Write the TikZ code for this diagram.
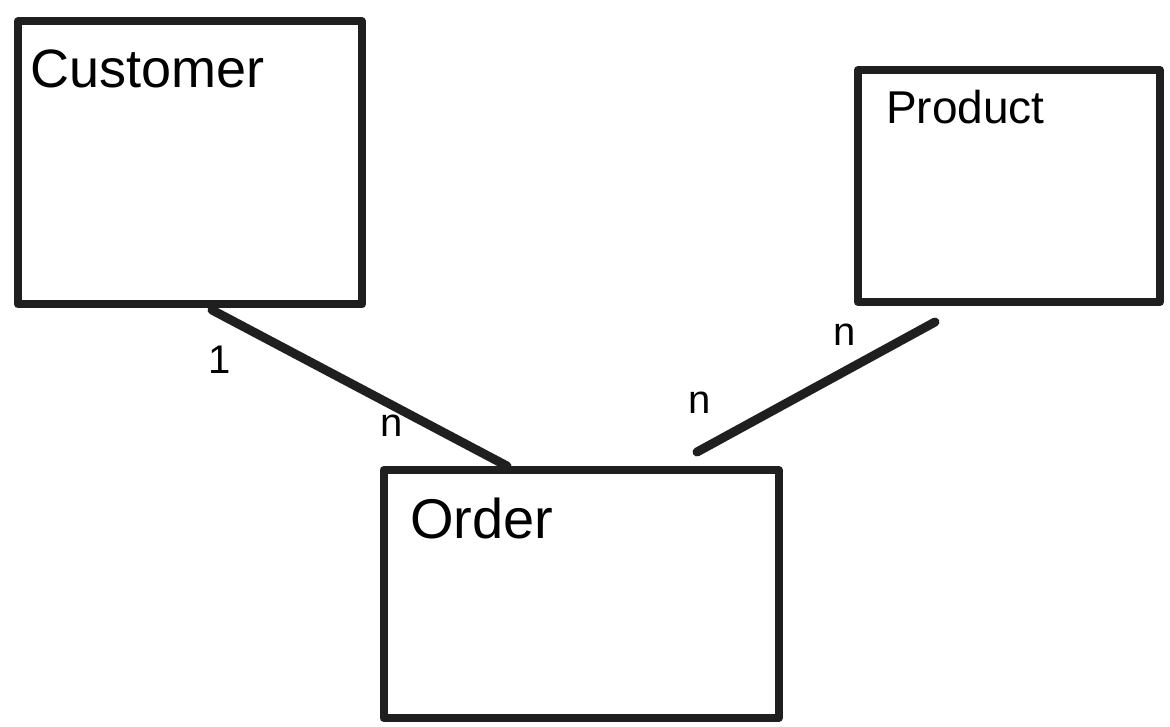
\documentclass[tikz,border=0pt]{standalone}
\usepackage{fontspec}
\setmainfont{Liberation Sans}
\begin{document}
\begin{tikzpicture}[x=1pt,y=-1pt,
  entity/.style={draw=black!88, line width=8pt, rectangle, line cap=round, line join=round, inner sep=0pt},
  title/.style={anchor=base west, inner sep=0pt},
  card/.style={font=\fontsize{40}{42}\selectfont, inner sep=0pt},
  rel/.style={draw=black!88, line width=9pt, line cap=round}]
\useasboundingbox[fill=white] (0,0) rectangle (1170,727);
\node[entity, minimum width=344pt, minimum height=283pt] (cust) at (190,163) {};
\node[entity, minimum width=302pt, minimum height=232pt] (prod) at (1009,186) {};
\node[entity, minimum width=395pt, minimum height=248pt] (ord) at (581,594) {};
\node[title, font=\fontsize{54}{56}\selectfont] (tc) at (30,88) {Customer};
\node[title, font=\fontsize{46}{48}\selectfont] (tp) at (886,124) {Product};
\node[title, font=\fontsize{56}{58}\selectfont] (to) at (410,538) {Order};
\coordinate (c1) at (212,310);
\coordinate (o1) at (507,466);
\coordinate (p1) at (935,322);
\coordinate (o2) at (697,452);
\draw[rel] (c1) -- (o1);
\draw[rel] (p1) -- (o2);
\node[card] (l1) at (220,360) {1};
\node[card] (l2) at (392,426) {n};
\node[card] (l3) at (700,403) {n};
\node[card] (l4) at (845,335) {n};
\end{tikzpicture}
\end{document}
